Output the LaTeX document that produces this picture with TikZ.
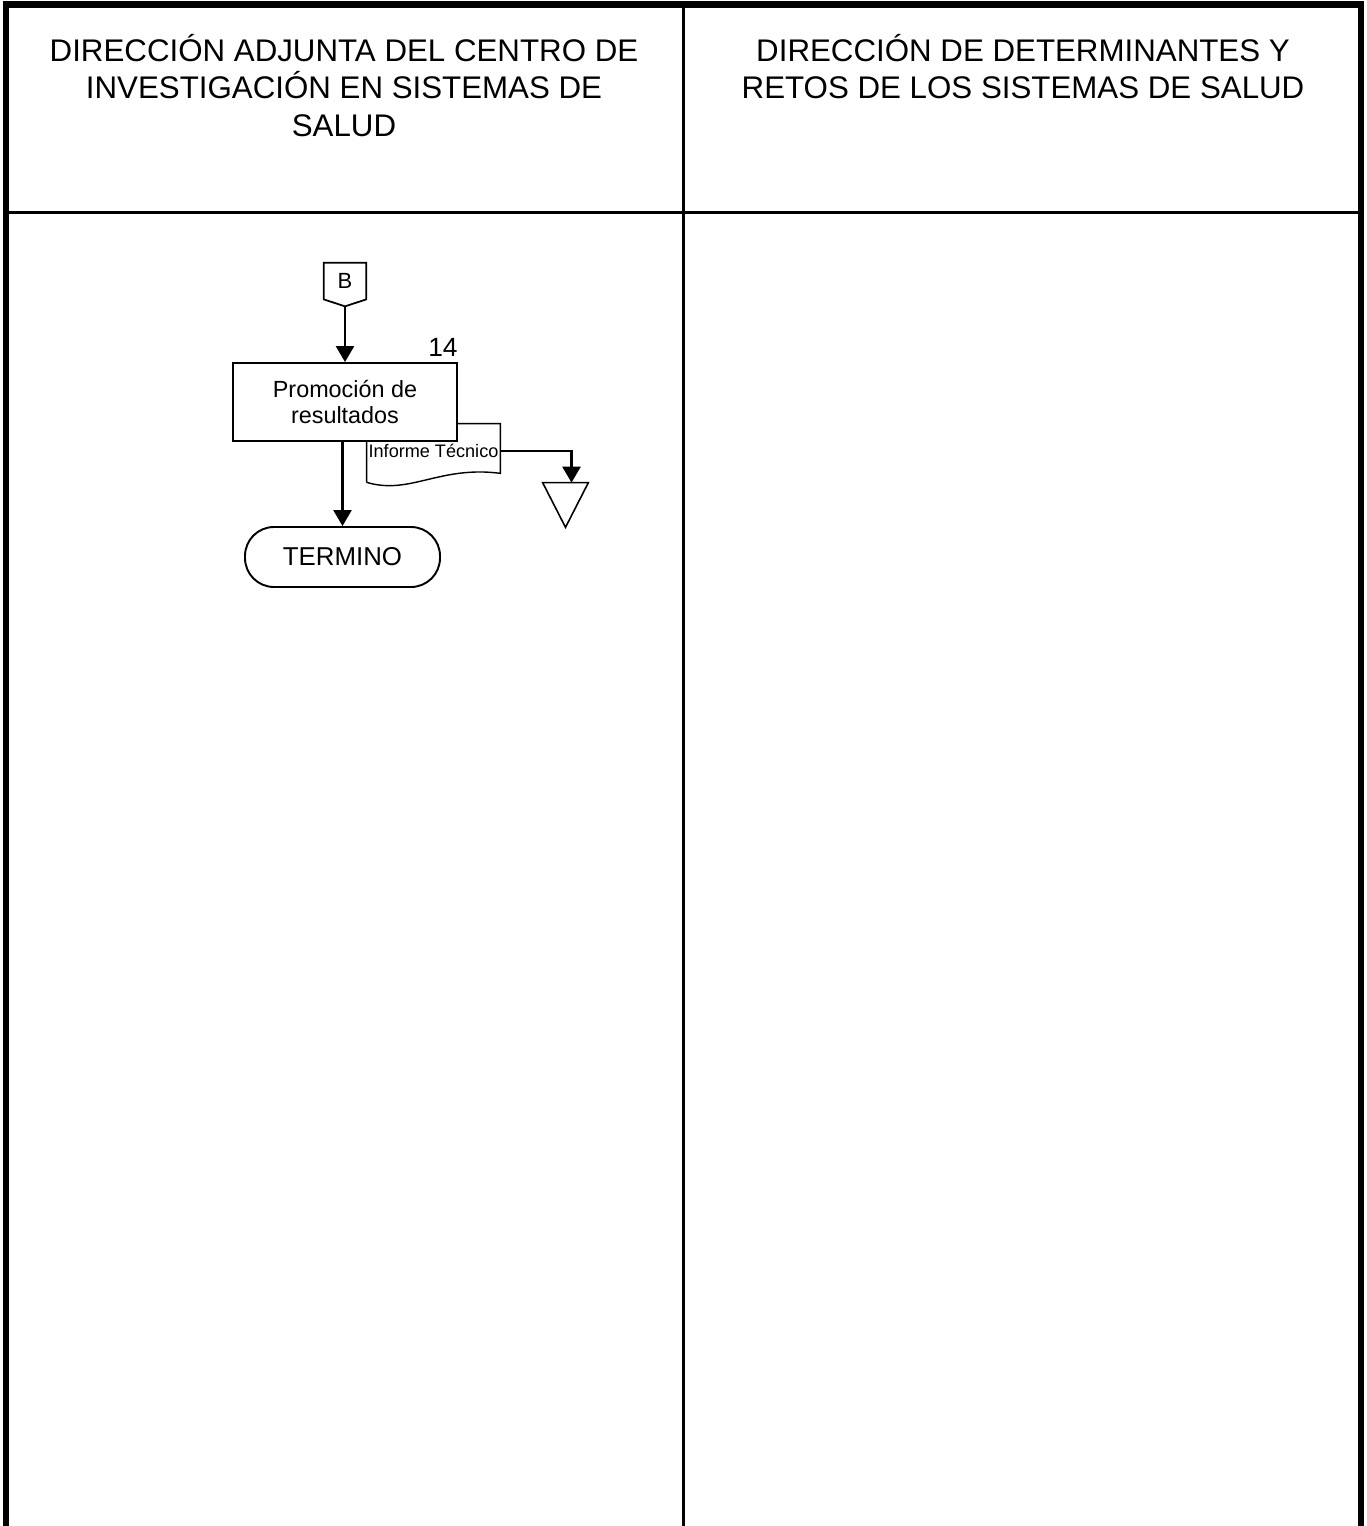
\documentclass[tikz,border=0pt]{standalone}
\usepackage{fontspec}
\setmainfont{Liberation Sans}
\usepackage{tikz}
\usetikzlibrary{arrows.meta,calc,positioning}

\begin{document}
\begin{tikzpicture}[
      >=Triangle,
      frame/.style={line width=0.13cm,line join=miter},
      lane/.style={line width=0.06cm},
      head/.style={font=\fontsize{17.8}{21.3}\selectfont,align=center,inner sep=0pt,anchor=north},
      proc/.style={draw,fill=white,line width=1.1pt,minimum width=4.48cm,minimum height=1.56cm,align=center,inner sep=0pt,font=\fontsize{13.3}{15.3}\selectfont},
      term/.style={draw,line width=1.1pt,rounded corners=0.58cm,minimum width=3.9cm,minimum height=1.2cm,inner sep=0pt,font=\fontsize{14.7}{17}\selectfont},
      shell/.style={inner sep=0pt,minimum width=0.84cm,minimum height=0.72cm,font=\fontsize{12.5}{14}\selectfont},
      arr/.style={-{Triangle[length=0.32cm,width=0.36cm]},line width=0.052cm}
    ]
      \useasboundingbox (0,0) rectangle (27.32,-30.52);
      % swimlane frame
      \draw[frame] (0.12,-30.52) -- (0.12,-0.09) -- (27.22,-0.09) -- (27.22,-30.52);
      \draw[lane] (13.67,-0.09) -- (13.67,-30.52);
      \draw[lane] (0.12,-4.26) -- (27.22,-4.26);
      \node[head] (h1) at (6.88,-0.68) {DIRECCIÓN ADJUNTA DEL CENTRO DE\\INVESTIGACIÓN EN SISTEMAS DE\\SALUD};
      \node[head] (h2) at (20.46,-0.68) {DIRECCIÓN DE DETERMINANTES Y\\RETOS DE LOS SISTEMAS DE SALUD};
      % connector B
      \node[shell] (B) at (6.90,-5.62) {B};
      \coordinate (Btip) at ($(B.south)+(0,-0.14)$);
      \draw[line width=1pt] (B.north west) -- (B.north east) -- (B.south east) -- (Btip) -- (B.south west) -- cycle;
      % document
      \node[inner sep=0pt,minimum width=2.66cm,minimum height=1.08cm,font=\fontsize{10.3}{12}\selectfont] (doc) at (8.67,-9.02) {Informe Técnico};
      \draw[line width=0.8pt] ($(doc.south west)+(0,-0.08)$) -- (doc.north west) -- (doc.north east) -- ($(doc.south east)+(0,0.10)$)
        .. controls ($(doc.south west)+(1.46,0.26)$) and ($(doc.south west)+(0.86,-0.34)$) .. ($(doc.south west)+(0,-0.08)$);
      % activity 14
      \node[proc] (proc) at (6.90,-8.04) {Promoción de\\resultados};
      \node[anchor=south east,inner sep=0pt,font=\fontsize{15}{17}\selectfont] (n14) at ([yshift=0.1cm]proc.north east) {14};
      % archive
      \node[inner sep=0pt,minimum width=0.9cm,minimum height=0.88cm] (arch) at (11.31,-10.10) {};
      \draw[line width=0.9pt] (arch.north west) -- (arch.north east) -- (arch.south) -- cycle;
      % end
      \node[term] (end) at (6.85,-11.14) {TERMINO};
      \draw[arr] (Btip) -- (Btip |- proc.north);
      \draw[arr] (end.north |- proc.south) -- (end.north);
      \draw[arr] (doc.east) -| ([xshift=0.12cm]arch.north);
    \end{tikzpicture}
\end{document}
